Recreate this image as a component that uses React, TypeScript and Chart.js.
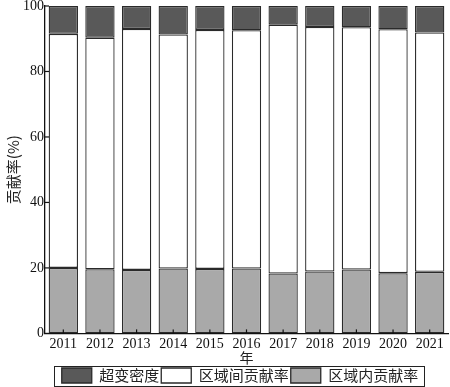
import React, { useEffect, useRef } from "react";
import { Chart, registerables } from "chart.js";

Chart.register(...registerables);

const years = ["2011", "2012", "2013", "2014", "2015", "2016", "2017", "2018", "2019", "2020", "2021"];
const intraRegion = [20.0, 19.6, 19.4, 19.8, 19.7, 19.8, 18.3, 18.9, 19.5, 18.4, 18.8];
const hyperDensity = [8.5, 9.7, 7.0, 8.7, 7.3, 7.4, 5.7, 6.4, 6.5, 7.1, 8.1];
const interRegion = years.map((_, i) => +(100 - intraRegion[i] - hyperDensity[i]).toFixed(1));
const yTicks = [0, 20, 40, 60, 80, 100];

const SERIF = "'Liberation Serif', 'Times New Roman', 'Noto Sans CJK SC', serif";
const CJK = "'Noto Sans CJK SC', 'Liberation Serif', serif";

const LEGEND_DX = 16;
const LEGEND_TOP = 366;

const decorPlugin = {
  id: "decor",
  afterLayout(chart: any) {
    const lg = chart.legend;
    if (lg) {
      const h = lg.bottom - lg.top;
      lg.left += LEGEND_DX;
      lg.right += LEGEND_DX;
      lg.top = LEGEND_TOP;
      lg.bottom = LEGEND_TOP + h;
    }
  },
  afterDraw(chart: any) {
    const ctx = chart.ctx;
    const x = chart.scales.x;
    const y = chart.scales.y;
    ctx.save();
    ctx.strokeStyle = "#111";
    ctx.lineWidth = 1.2;
    yTicks.forEach((v) => {
      const py = y.getPixelForValue(v);
      ctx.beginPath();
      ctx.moveTo(x.left, py);
      ctx.lineTo(x.left + 4, py);
      ctx.stroke();
    });
    years.forEach((_, i) => {
      const px = x.getPixelForValue(i);
      ctx.beginPath();
      ctx.moveTo(px, y.bottom);
      ctx.lineTo(px, y.bottom - 4);
      ctx.stroke();
    });
    const lg = chart.legend;
    if (lg && lg.legendHitBoxes && lg.legendHitBoxes.length) {
      let l = Infinity, t = Infinity, r = -Infinity, b = -Infinity;
      lg.legendHitBoxes.forEach((h: any) => {
        l = Math.min(l, h.left);
        t = Math.min(t, h.top);
        r = Math.max(r, h.left + h.width);
        b = Math.max(b, h.top + h.height);
      });
      ctx.lineWidth = 1;
      ctx.strokeStyle = "#222";
      ctx.strokeRect(Math.round(l - 8) + 0.5, Math.round(t - 2) + 0.5, Math.round(r - l + 13), Math.round(b - t + 5));
    }
    ctx.restore();
  },
};

export default function App() {
  const ref = useRef<HTMLCanvasElement | null>(null);
  useEffect(() => {
    if (!ref.current) return;
    const border = "#2a2a2a";
    const chart = new Chart(ref.current, {
      type: "bar",
      data: {
        labels: years,
        datasets: [
          {
            label: "区域内贡献率",
            data: intraRegion,
            backgroundColor: "#a9a9a9",
            borderColor: border,
            borderWidth: 1.3,
            borderSkipped: false,
          },
          {
            label: "区域间贡献率",
            data: interRegion,
            backgroundColor: "#ffffff",
            borderColor: border,
            borderWidth: 1.3,
            borderSkipped: false,
          },
          {
            label: "超变密度",
            data: hyperDensity,
            backgroundColor: "#595959",
            borderColor: border,
            borderWidth: 1.3,
            borderSkipped: false,
          },
        ],
      },
      options: {
        animation: false,
        responsive: false,
        maintainAspectRatio: false,
        layout: { padding: { top: 6, right: 2, left: 0, bottom: -6 } },
        datasets: { bar: { barPercentage: 0.8, categoryPercentage: 1.0 } },
        plugins: {
          tooltip: { enabled: false },
          legend: {
            position: "bottom",
            reverse: true,
            labels: {
              color: "#222",
              boxWidth: 30,
              boxHeight: 15,
              padding: 2,
              font: { family: CJK, size: 15 },
            },
          },
        },
        scales: {
          x: {
            stacked: true,
            grid: { display: false, drawTicks: false },
            border: { display: true, color: "#111", width: 1.3 },
            ticks: { color: "#111", font: { family: SERIF, size: 14 }, padding: 3, maxRotation: 0, autoSkip: false },
            title: { display: true, text: "年", color: "#222", font: { family: CJK, size: 14 }, padding: { top: -7, bottom: 0 } },
          },
          y: {
            stacked: true,
            min: 0,
            max: 100,
            afterFit: (scale: any) => {
              scale.paddingTop = 0;
            },
            grid: { display: false, drawTicks: false },
            border: { display: true, color: "#111", width: 1.3 },
            ticks: { stepSize: 20, color: "#111", font: { family: SERIF, size: 14 }, padding: 1 },
            title: { display: true, text: "贡献率(%)", color: "#222", font: { family: CJK, size: 15 }, padding: { top: 4, bottom: 0 } },
          },
        },
      },
      plugins: [decorPlugin],
    });
    return () => chart.destroy();
  }, []);
  return (
    <div style={{ position: "fixed", left: 0, top: 0, width: 450, height: 387, background: "#fff" }}>
      <canvas ref={ref} width={450} height={387} style={{ width: 450, height: 387 }} />
    </div>
  );
}
